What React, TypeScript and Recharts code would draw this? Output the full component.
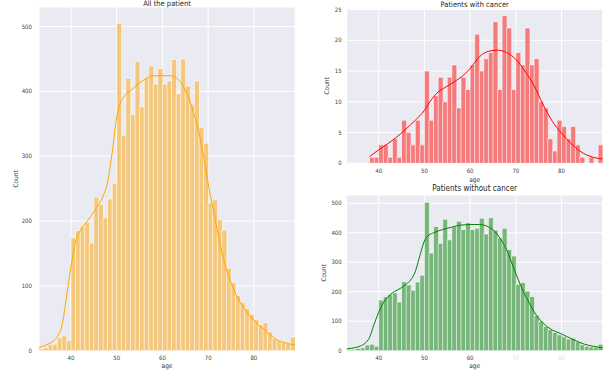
import { ComposedChart, Bar, Line, XAxis, YAxis, CartesianGrid } from "recharts";

// histogram bins are one year wide, starting at these ages
const binStarts = [
  33, 34, 35, 36, 37, 38, 39, 40, 41, 42, 43, 44, 45, 46, 47, 48, 49, 50, 51, 52, 53, 54, 55, 56, 57, 58,
  59, 60, 61, 62, 63, 64, 65, 66, 67, 68, 69, 70, 71, 72, 73, 74, 75, 76, 77, 78, 79, 80, 81, 82, 83, 84,
  85, 86, 87, 88,
];

const allCounts = [
  3, 5, 9, 10, 20, 23, 16, 174, 185, 192, 198, 166, 237, 226, 205, 234, 258, 505, 332, 420, 364, 446, 376,
  421, 439, 411, 435, 411, 416, 449, 396, 450, 408, 380, 416, 344, 320, 228, 233, 202, 186, 127, 105, 85,
  74, 65, 56, 48, 40, 43, 29, 19, 15, 13, 11, 21,
];

const cancerCounts = [
  0, 0, 0, 0, 0, 1, 1, 3, 3, 1, 4, 1, 7, 5, 3, 7, 3, 15, 7, 11, 14, 10, 14, 16, 9, 14, 12, 16, 21, 15, 17,
  18, 23, 12, 24, 22, 12, 18, 16, 22, 16, 17, 10, 9, 4, 2, 7, 6, 4, 6, 3, 1, 0, 1, 0, 3,
];

const noCancerCounts = [
  4, 5, 8, 10, 19, 22, 15, 172, 183, 191, 196, 165, 234, 223, 205, 233, 256, 503, 331, 421, 364, 446, 376,
  421, 439, 411, 434, 411, 415, 449, 396, 451, 409, 382, 415, 343, 321, 225, 231, 202, 184, 120, 100, 82,
  71, 62, 54, 47, 40, 42, 30, 20, 15, 13, 12, 22,
];

// kde curves
const kdeAges = [
  33, 34, 35, 36, 37, 38, 39, 40, 41, 42, 43, 44, 45, 46, 47, 48, 49, 50, 51, 52, 53, 54, 55, 56, 57, 58,
  59, 60, 61, 62, 63, 64, 65, 66, 67, 68, 69, 70, 71, 72, 73, 74, 75, 76, 77, 78, 79, 80, 81, 82, 83, 84,
  85, 86, 87, 88, 89,
];

const allKde = [
  5, 7, 10, 14, 22, 38, 82, 130, 168, 185, 195, 204, 214, 225, 238, 260, 305, 360, 385, 395, 401, 407, 413,
  418, 422, 424, 424, 424, 424, 424, 421, 414, 402, 385, 362, 336, 300, 258, 222, 186, 152, 125, 105, 88,
  75, 64, 55, 47, 40, 34, 28, 22, 17, 14, 12, 10, 9,
];

const noCancerKde = [
  6, 8, 11, 16, 25, 45, 90, 130, 162, 182, 196, 205, 214, 225, 240, 268, 322, 372, 392, 400, 406, 411, 415,
  419, 423, 426, 427, 428, 428, 428, 426, 420, 410, 393, 370, 342, 302, 262, 223, 189, 160, 132, 110, 93,
  80, 70, 63, 57, 49, 42, 35, 28, 22, 18, 15, 12, 10,
];

const cancerKdeAges = [38, 40, 42, 44, 46, 48, 50, 51, 52, 53, 54, 56, 58, 60, 62, 64, 66, 68, 70, 72, 74, 76, 78, 80, 82, 84, 86, 88, 89];
const cancerKde = [
  1.1, 2.2, 3.2, 4.3, 5.6, 7.0, 8.6, 9.8, 10.8, 11.6, 12.1, 13.0, 14.0, 15.4, 17.3, 18.2, 18.4, 18.0, 16.9,
  15.0, 12.6, 9.5, 6.8, 4.9, 3.3, 2.0, 1.2, 0.8, 0.7,
];

const ageTicks = [40, 50, 60, 70, 80];
const countTicks = [0, 100, 200, 300, 400, 500];
const cancerTicks = [0, 5, 10, 15, 20, 25];

const LABEL_FONT = "'DejaVu Sans Condensed', 'DejaVu Sans', sans-serif";
const TICK_FONT = "'Liberation Sans Narrow', 'DejaVu Sans Condensed', 'DejaVu Sans', sans-serif";

function Panel(props: any) {
  const bins = binStarts.map((a, i) => ({ age: a + 0.5, count: props.counts[i] }));
  const curve = props.kdeAges.map((a: number, i: number) => ({ age: a, kde: props.kde[i] }));
  const tickStyle = { fontSize: 6, fill: "#444", fontFamily: TICK_FONT };

  const xTick = (p: any) => {
    const dim = props.dimTicks && props.dimTicks.includes(p.payload.value);
    return (
      <text x={p.x} y={p.y} dy={4.5} textAnchor="middle" fontSize={6} fill={dim ? "#e4e4e4" : "#444"} fontFamily={TICK_FONT}>
        {p.payload.value}
      </text>
    );
  };

  return (
    <div style={{ position: "absolute", left: props.left, top: props.top }}>
      <ComposedChart
        width={props.width}
        height={props.height}
        data={bins}
        margin={{ top: props.plotTop, right: props.plotRight, bottom: 0, left: 0 }}
        barCategoryGap={0}
        barGap={0}
      >
        <CartesianGrid fill="#EAEAF2" stroke="#ffffff" strokeWidth={1} />
        <XAxis
          type="number"
          dataKey="age"
          domain={[33, 89]}
          ticks={ageTicks}
          allowDataOverflow
          axisLine={false}
          tickLine={false}
          tickSize={0}
          tickMargin={props.xTickMargin}
          height={props.xAxisHeight}
          tick={xTick}
          label={{ value: "age", position: "insideBottom", offset: props.ageOffset, fontSize: 6.5, fill: "#333", fontFamily: LABEL_FONT }}
        />
        <XAxis xAxisId="kde" type="number" dataKey="age" domain={[33, 89]} allowDataOverflow hide />
        <YAxis
          type="number"
          domain={[0, props.yMax]}
          ticks={props.yTicks}
          allowDataOverflow
          width={props.yAxisWidth}
          axisLine={false}
          tickLine={false}
          tickSize={0}
          tickMargin={props.yTickMargin}
          tick={tickStyle}
          label={{ value: "Count", angle: -90, position: "center", dx: props.countDx, fontSize: 6.5, fill: "#333", fontFamily: LABEL_FONT }}
        />
        <Bar dataKey="count" fill={props.barFill} stroke="#ffffff" strokeWidth={0.7} strokeOpacity={0.85} isAnimationActive={false} />
        <Line
          data={curve}
          xAxisId="kde"
          dataKey="kde"
          type="monotone"
          stroke={props.lineColor}
          strokeWidth={1}
          dot={false}
          isAnimationActive={false}
        />
      </ComposedChart>
    </div>
  );
}

export default function App() {
  return (
    <div style={{ position: "absolute", left: 0, top: 0, width: 613, height: 378, background: "#fff", overflow: "hidden" }}>
      <Panel
        left={0}
        top={0}
        width={300}
        height={378}
        plotTop={7}
        plotRight={5}
        yAxisWidth={39}
        xAxisHeight={27.3}
        xTickMargin={4.5}
        yTickMargin={7}
        ageOffset={10.5}
        countDx={-3.5}
        counts={allCounts}
        kdeAges={kdeAges}
        kde={allKde}
        barFill="#F5C77B"
        lineColor="#FFA500"
        yMax={530}
        yTicks={countTicks}
      />
      <Panel
        left={300}
        top={0}
        width={313}
        height={190}
        plotTop={8.3}
        plotRight={10.3}
        yAxisWidth={46.7}
        xAxisHeight={26.7}
        xTickMargin={5.5}
        yTickMargin={5}
        ageOffset={8.5}
        countDx={3.5}
        counts={cancerCounts}
        kdeAges={cancerKdeAges}
        kde={cancerKde}
        barFill="#F47A7C"
        lineColor="#FF0000"
        yMax={25.2}
        yTicks={cancerTicks}
      />
      <Panel
        left={300}
        top={190}
        width={313}
        height={188}
        plotTop={5}
        plotRight={10.3}
        yAxisWidth={46.7}
        xAxisHeight={27.3}
        xTickMargin={4.5}
        yTickMargin={5}
        ageOffset={10.5}
        countDx={0.5}
        counts={noCancerCounts}
        kdeAges={kdeAges}
        kde={noCancerKde}
        barFill="#77B67A"
        lineColor="#008000"
        yMax={528}
        yTicks={countTicks}
        dimTicks={[70, 80]}
      />
      <svg width={613} height={378} style={{ position: "absolute", left: 0, top: 0, pointerEvents: "none" }}>
        <text x={167} y={6} textAnchor="middle" fontSize={7.5} fill="#262626" fontFamily={LABEL_FONT}>
          All the patient
        </text>
        <text x={474.7} y={6.5} textAnchor="middle" fontSize={7.5} fill="#262626" fontFamily={LABEL_FONT}>
          Patients with cancer
        </text>
        <text x={474.7} y={191} textAnchor="middle" fontSize={8} fill="#262626" fontFamily={LABEL_FONT}>
          Patients without cancer
        </text>
      </svg>
    </div>
  );
}
